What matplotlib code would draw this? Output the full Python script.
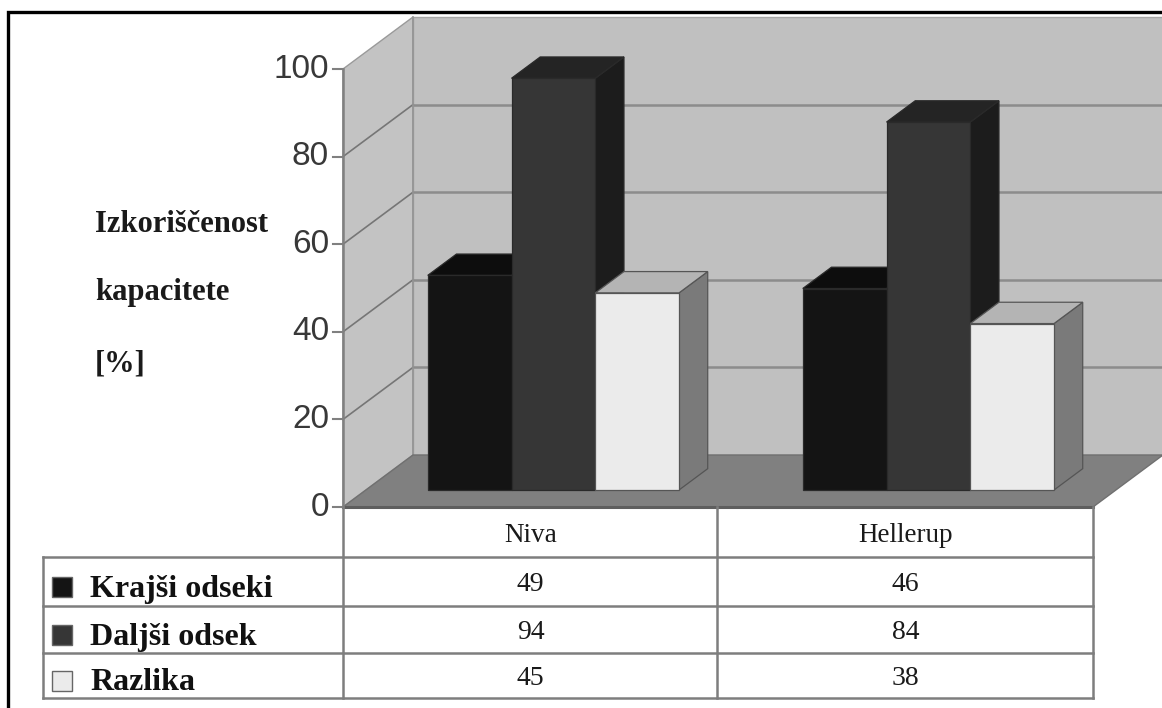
import matplotlib
matplotlib.use('Agg')
import matplotlib.pyplot as plt
from matplotlib.patches import Polygon, Rectangle

# data
categories = ['Niva', 'Hellerup']
series = ['Krajši odseki', 'Daljši odsek', 'Razlika']
kratki = [49, 46]
dolgi = [94, 84]
razlika = [45, 38]
values = {'Krajši odseki': kratki, 'Daljši odsek': dolgi, 'Razlika': razlika}
yticks = [0, 20, 40, 60, 80, 100]
ylabel_lines = ['Izkoriščenost', 'kapacitete', '[%]']

# face colours per series: front, top, side
face_colors = {
    'Krajši odseki': ('#141414', '#0d0d0d', '#0a0a0a'),
    'Daljši odsek': ('#363636', '#242424', '#1c1c1c'),
    'Razlika': ('#ebebeb', '#b4b4b4', '#7a7a7a'),
}

W, H = 1162, 708
fig = plt.figure(figsize=(W / 100, H / 100), dpi=100)
ax = fig.add_axes([0, 0, 1, 1])

# pixel geometry of the plot box
X0_PX, X2_PX = 343, 1093      # category 0 and 2 on the front plane
Y0_PX, Y100_PX = 507, 69      # value 0 and 100 on the front plane
sx = (X2_PX - X0_PX) / 2.0
sy = (Y0_PX - Y100_PX) / 100.0
ax.set_xlim(-X0_PX / sx, (W - X0_PX) / sx)
ax.set_ylim(-(H - Y0_PX) / sy, Y0_PX / sy)
ax.axis('off')


def px(x, y):
    """pixel position (origin top-left) -> data coords"""
    return (x - X0_PX) / sx, (Y0_PX - y) / sy


# oblique depth offset of the whole floor
DX = 70 / sx
DY = 52 / sy

wall = '#c0c0c0'
grid_c = '#8c8c8c'

# left wall
ax.add_patch(Polygon([(0, 0), (0, 100), (DX, 100 + DY), (DX, DY)],
                     closed=True, fc='#c3c3c3', ec='#9a9a9a', lw=1.0, zorder=1))
# back wall
ax.add_patch(Polygon([(DX, DY), (2 + DX, DY), (2 + DX, 100 + DY), (DX, 100 + DY)],
                     closed=True, fc=wall, ec='#a6a6a6', lw=1.0, zorder=1))
for v in yticks[1:-1]:
    ax.plot([DX, 2 + DX], [v + DY, v + DY], color=grid_c, lw=1.8, zorder=2)
    ax.plot([0, DX], [v, v + DY], color='#767676', lw=1.2, zorder=2)
ax.plot([DX, DX], [DY, 100 + DY], color='#959595', lw=1.2, zorder=2)

# floor
ax.add_patch(Polygon([(0, 0), (2, 0), (2 + DX, DY), (DX, DY)],
                     closed=True, fc='#808080', ec='#707070', lw=1.0, zorder=3))
ax.plot([0, 2], [0, 0], color='#5e5e5e', lw=2.2, zorder=4)

# bars
group_w = 0.67
bar_w = group_w / len(series)
z0, dz = 0.327, 0.41


def bar3d(x, h, colors, edge):
    front, top, side = colors
    xa, ya = x + z0 * DX, z0 * DY
    ex, ey = dz * DX, dz * DY
    ax.add_patch(Polygon([(xa + bar_w, ya), (xa + bar_w + ex, ya + ey),
                          (xa + bar_w + ex, ya + h + ey), (xa + bar_w, ya + h)],
                         closed=True, fc=side, ec=edge, lw=0.9, zorder=5))
    ax.add_patch(Polygon([(xa, ya + h), (xa + bar_w, ya + h),
                          (xa + bar_w + ex, ya + h + ey), (xa + ex, ya + h + ey)],
                         closed=True, fc=top, ec=edge, lw=0.9, zorder=5))
    ax.add_patch(Rectangle((xa, ya), bar_w, h, fc=front, ec=edge, lw=0.9, zorder=5))


for i, cat in enumerate(categories):
    left = i + 0.5 - group_w / 2
    for j, s in enumerate(series):
        edge = '#555555' if s == 'Razlika' else '#2a2a2a'
        bar3d(left + j * bar_w, values[s][i], face_colors[s], edge)

# y axis with ticks
axis_c = '#808080'
tick_len = 10 / sx
ax.plot([0, 0], [0, 100], color=axis_c, lw=1.8, zorder=6)
for v in yticks:
    ax.plot([-tick_len, 0], [v, v], color=axis_c, lw=1.5, zorder=6)
    ax.text(-14 / sx, v, str(v), ha='right', va='center', fontsize=24,
            family='Liberation Sans', color='#383838')

# y label, three lines
for line, base in zip(ylabel_lines, [232, 300, 372]):
    ax.text(*px(95, base), line, ha='left', va='baseline', fontsize=22,
            family='Liberation Serif', weight='bold', color='#1a1a1a')

# data table under the plot
tbl_c = '#7e7e7e'
row_edges = [557, 606, 653, 698]
col_x = [X0_PX, 717, X2_PX]
for ry in row_edges:
    ax.plot(*zip(px(43, ry), px(X2_PX, ry)), color=tbl_c, lw=1.8, zorder=6)
for cx in col_x:
    ax.plot(*zip(px(cx, Y0_PX), px(cx, row_edges[-1])), color=tbl_c, lw=1.8, zorder=6)
ax.plot(*zip(px(43, row_edges[0]), px(43, row_edges[-1])), color=tbl_c, lw=1.8, zorder=6)

# header row with category names
for i, cat in enumerate(categories):
    ax.text(i + 0.5, px(0, 536)[1], cat, ha='center', va='center', fontsize=19.5,
            family='Liberation Serif', color='#1a1a1a')

# value rows with legend keys
for j, s in enumerate(series):
    top_px, bot_px = row_edges[j], row_edges[j + 1]
    mid = (top_px + bot_px) / 2
    kx, ky = px(52, mid + 15)
    kx2, ky2 = px(72, mid - 5)
    ax.add_patch(Rectangle((kx, ky), kx2 - kx, ky2 - ky, fc=face_colors[s][0],
                           ec='#666666', lw=1.0, zorder=7))
    ax.text(*px(90, mid + 15), s, ha='left', va='baseline', fontsize=23,
            family='Liberation Serif', weight='bold', color='#111111')
    for i in range(len(categories)):
        ax.text(i + 0.5, px(0, mid + 3)[1], str(values[s][i]), ha='center',
                va='center', fontsize=20, family='Liberation Serif', color='#1a1a1a')

# outer frame (left and top edges run inside the canvas)
ax.plot(*zip(px(8, H + 5), px(8, 12), px(W + 5, 12)), color='black', lw=2.4,
        solid_joinstyle='miter', zorder=8)

fig.savefig('out.png', dpi=100)
